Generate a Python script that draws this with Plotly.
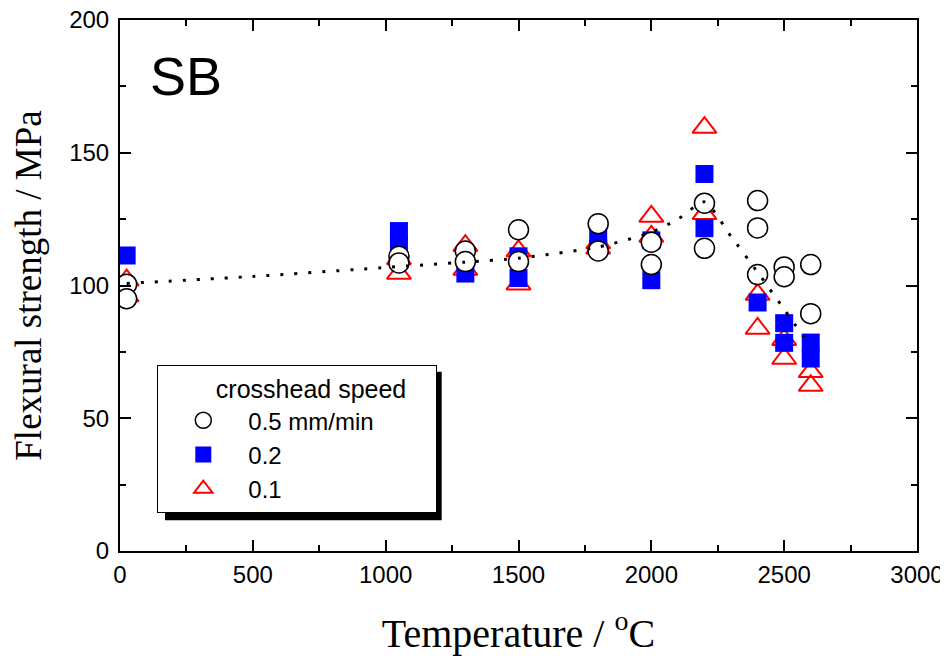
import plotly.graph_objects as go

# ---- data ----
temp_05 = [25, 25, 1050, 1050, 1300, 1300, 1500, 1500, 1800, 1800, 2000, 2000,
           2200, 2200, 2400, 2400, 2400, 2500, 2500, 2600, 2600]
str_05 = [100.5, 95, 111, 108.5, 113, 109, 121, 109, 123.3, 113, 116.3, 107.9,
          131, 114, 132, 121.7, 104.1, 107, 103.3, 107.9, 89.4]

temp_02 = [25, 1050, 1050, 1300, 1500, 1500, 1800, 1800, 2000, 2000, 2200, 2200,
           2400, 2500, 2500, 2600, 2600]
str_02 = [111.3, 120.5, 115.5, 104.5, 111, 102.8, 118, 114, 117, 102, 142, 121.6,
          93.6, 85.8, 78.4, 78.5, 72.5]

temp_01 = [25, 25, 1050, 1050, 1300, 1300, 1500, 1500, 1800, 1800, 2000, 2000,
           2200, 2200, 2400, 2400, 2500, 2500, 2600, 2600]
str_01 = [102, 96, 110, 104.5, 115, 106, 113, 100.5, 116, 114, 126, 118.5,
          159.5, 127, 96.6, 83.8, 79.6, 72.5, 67.5, 62.3]

fit_temp = [25, 500, 1000, 1300, 1500, 1800, 2000, 2100, 2200, 2300, 2400, 2500, 2600]
fit_str = [100.8, 103.4, 106.8, 108.8, 110.3, 114.5, 120, 125, 131.5, 118.5, 105, 91, 77]

x_ticks = [0, 500, 1000, 1500, 2000, 2500, 3000]
y_ticks = [0, 50, 100, 150, 200]

SANS = "Liberation Sans, Arial, sans-serif"
SERIF = "Liberation Serif, Times New Roman, serif"

# page body has an 8px offset; plot area target: x 120..917, y 20..551.5 (window px)
OFF = 8
L, R, T, B = 120 - OFF, 948 - 917 + OFF, 20 - OFF, 659 - 551.5 + OFF
PW, PH = 797.0, 531.5


def px(xw):
    return (xw - 120) / PW


def py(yw):
    return (551.5 - yw) / PH


fig = go.Figure()

fig.add_trace(go.Scatter(
    x=temp_01, y=str_01, mode="markers", name="0.1", legendrank=3,
    marker=dict(symbol="triangle-up-open", size=21, color="#FF0000",
                line=dict(color="#FF0000", width=2)),
))
fig.add_trace(go.Scatter(
    x=temp_02, y=str_02, mode="markers", name="0.2", legendrank=2,
    marker=dict(symbol="square", size=18, color="#0000FF",
                line=dict(width=0)),
))
fig.add_trace(go.Scatter(
    x=temp_05, y=str_05, mode="markers", name="0.5 mm/min", legendrank=1,
    marker=dict(symbol="circle", size=20, color="white",
                line=dict(color="black", width=1.5)),
))
fig.add_trace(go.Scatter(
    x=fit_temp, y=fit_str, mode="lines", showlegend=False,
    line=dict(color="black", width=3, dash="3px,11px", shape="spline", smoothing=0.6),
))

axis_common = dict(
    showline=True, linecolor="black", linewidth=2, mirror="allticks",
    ticks="inside", ticklen=11, tickwidth=2, tickcolor="black",
    showgrid=False, zeroline=False, ticklabeloverflow="allow",
    tickfont=dict(family=SANS, size=24, color="black"),
)

fig.update_xaxes(
    range=[0, 3000], tickvals=x_ticks, ticktext=[str(v) for v in x_ticks],
    minor=dict(dtick=250, ticks="inside", ticklen=6, tickwidth=2, tickcolor="black"),
    ticklabelstandoff=1,
    title=dict(text="Temperature / <sup>o</sup>C", font=dict(family=SERIF, size=40, color="black"),
               standoff=32),
    **axis_common,
)
fig.update_yaxes(
    range=[0, 200], tickvals=y_ticks, ticktext=[str(v) for v in y_ticks],
    minor=dict(dtick=25, ticks="inside", ticklen=6, tickwidth=2, tickcolor="black"),
    ticklabelstandoff=4,
    title=dict(text="Flexural strength / MPa", font=dict(family=SERIF, size=37, color="black"),
               standoff=24),
    **axis_common,
)

fig.add_annotation(
    text="SB", xref="paper", yref="paper", x=px(148), y=py(76),
    xanchor="left", yanchor="middle", showarrow=False,
    font=dict(family=SANS, size=54, color="black"),
)

# legend shadow
fig.add_shape(type="rect", xref="paper", yref="paper",
              x0=px(165), x1=px(441.7), y0=py(520.7), y1=py(372),
              fillcolor="black", line=dict(width=0), layer="above")

fig.update_layout(
    width=948, height=659,
    margin=dict(l=L, r=R, t=T, b=B, autoexpand=False),
    paper_bgcolor="white", plot_bgcolor="white",
    legend=dict(
        title=dict(text="\u00a0" * 8 + "crosshead speed" + "\u00a0" * 4,
                   font=dict(family=SANS, size=25, color="black")),
        x=px(157.3), y=py(365),
        xanchor="left", yanchor="top",
        bgcolor="white", bordercolor="black", borderwidth=1,
        font=dict(family=SANS, size=24, color="black"),
        itemwidth=80,
    ),
)

fig.write_html("out.html")
